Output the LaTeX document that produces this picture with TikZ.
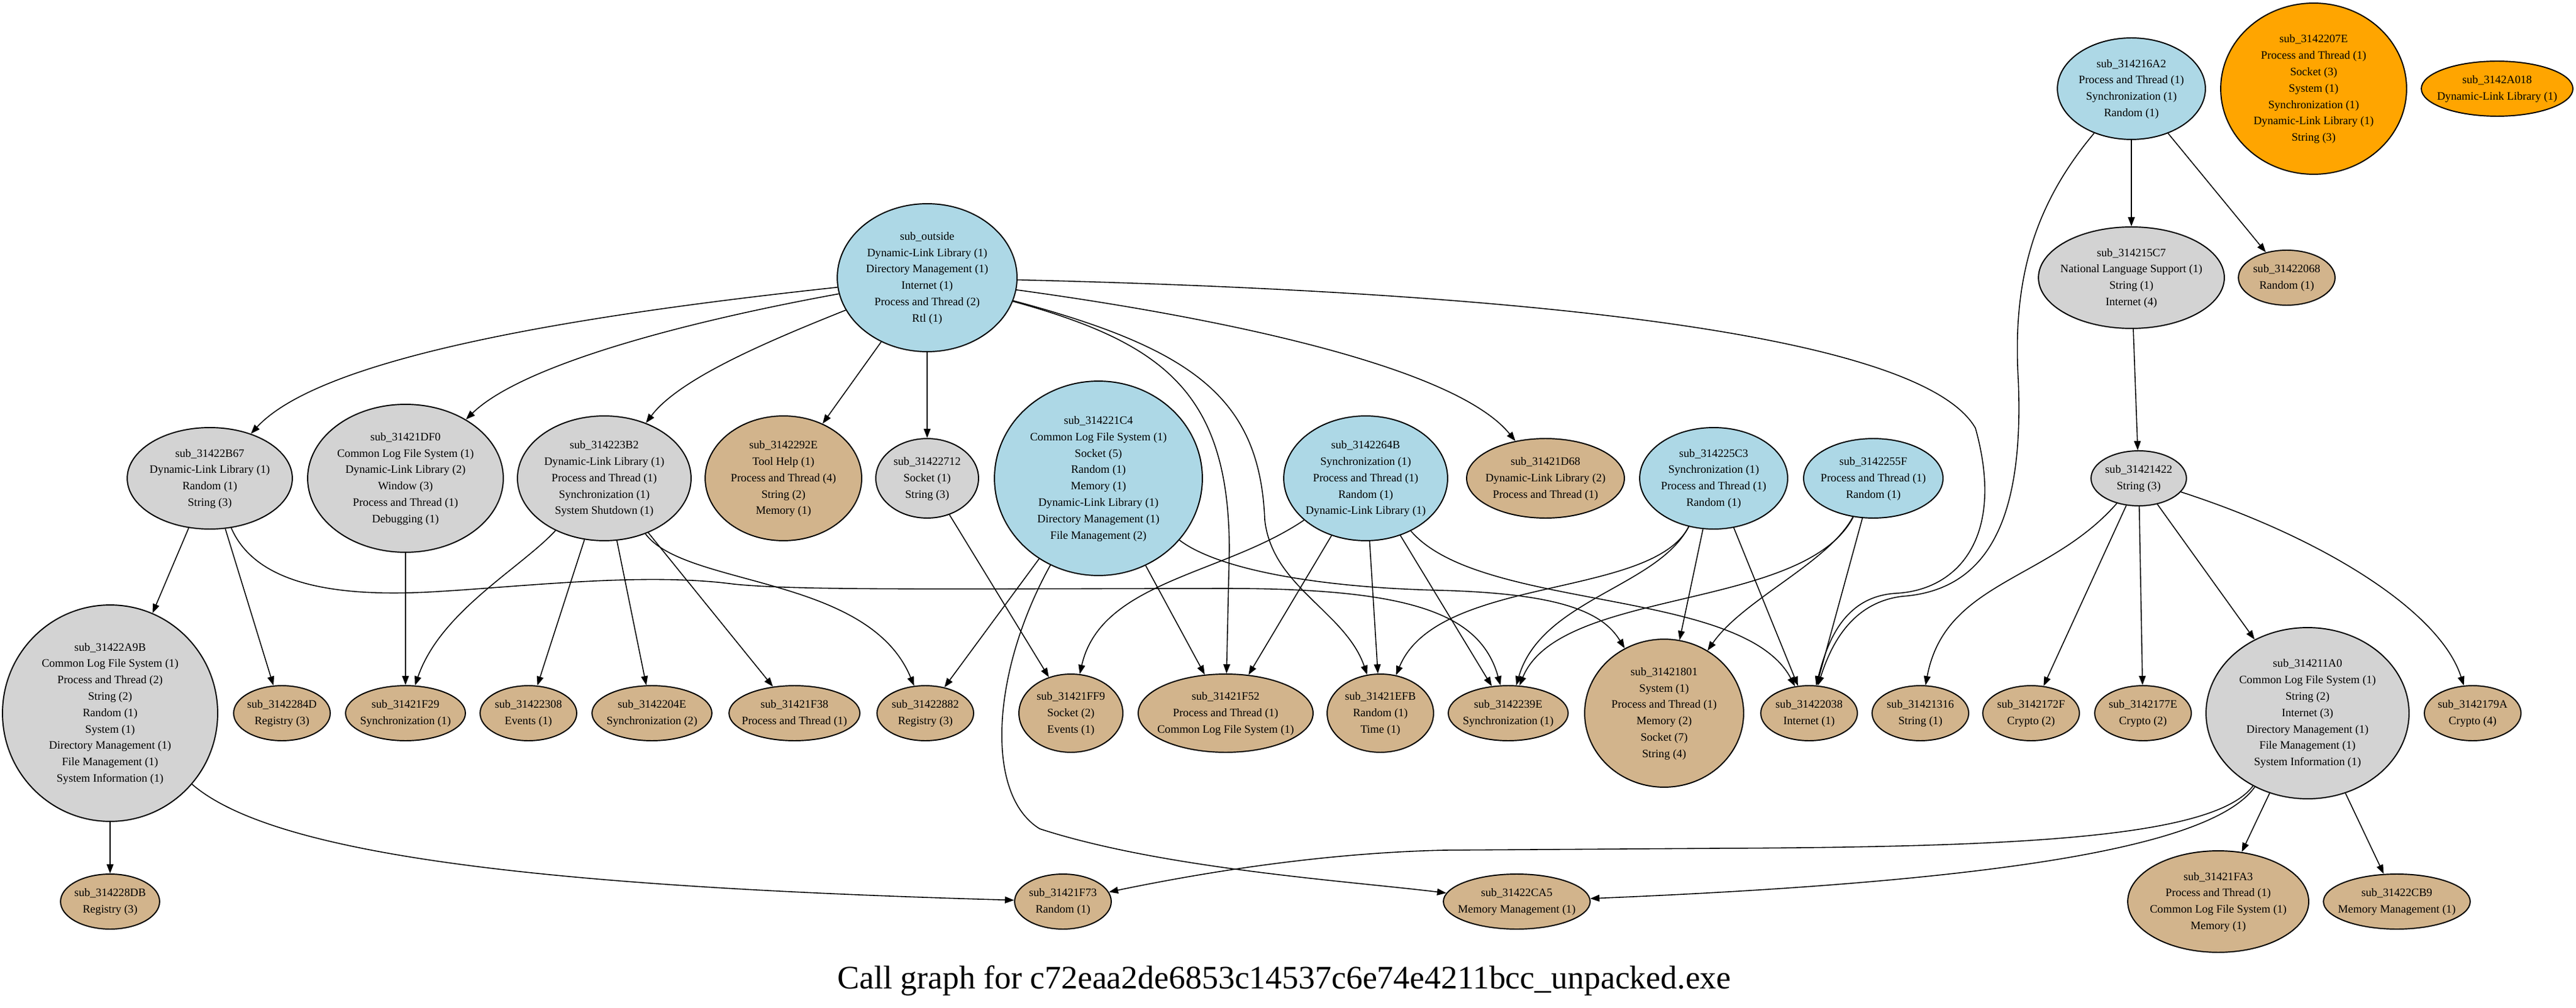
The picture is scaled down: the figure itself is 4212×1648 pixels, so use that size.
\documentclass[tikz,border=0pt]{standalone}
\usepackage{fontspec}
\setmainfont{Liberation Serif}
\usetikzlibrary{shapes.geometric,arrows.meta}
\definecolor{lb}{HTML}{ADD8E6}
\definecolor{lg}{HTML}{D3D3D3}
\definecolor{tn}{HTML}{D2B48C}
\definecolor{og}{HTML}{FFA500}
\newcommand\nl[1]{\makebox[0pt]{\begin{tabular}{@{}c@{}}#1\end{tabular}}}
\tikzset{
  nd/.style={ellipse, draw=black, line width=1.1pt, inner sep=0pt,
    font=\fontsize{10.6}{15.25}\selectfont},
  sz/.style 2 args={minimum width=#1*0.04cm, minimum height=#2*0.04cm},
  bl/.style={nd, fill=lb},
  gr/.style={nd, fill=lg},
  ta/.style={nd, fill=tn},
  or/.style={nd, fill=og},
  edge/.style={line width=0.9pt, -{Triangle[length=0.3cm,width=0.22cm]}}
}
\begin{document}
\begin{tikzpicture}[x=0.02cm,y=-0.02cm]
\fill[white] (0,0) rectangle (4212,1648);
\useasboundingbox (0,0) rectangle (4212,1648);
% top row
\node[bl,sz={147}{121}] (outside) at (1516,454) {\nl{sub\_outside\\Dynamic-Link Library (1)\\Directory Management (1)\\Internet (1)\\Process and Thread (2)\\Rtl (1)}};
\node[bl,sz={121}{83}] (s216A2) at (3485,145) {\nl{sub\_314216A2\\Process and Thread (1)\\Synchronization (1)\\Random (1)}};
\node[or,sz={152}{140}] (s207E) at (3783,145) {\nl{sub\_3142207E\\Process and Thread (1)\\Socket (3)\\System (1)\\Synchronization (1)\\Dynamic-Link Library (1)\\String (3)}};
\node[or,sz={124}{45}] (sA018) at (4083,145) {\nl{sub\_3142A018\\Dynamic-Link Library (1)}};
\node[gr,sz={152}{83}] (s15C7) at (3485,454) {\nl{sub\_314215C7\\National Language Support (1)\\String (1)\\Internet (4)}};
\node[ta,sz={79}{45}] (s2068) at (3739,454) {\nl{sub\_31422068\\Random (1)}};
% second row
\node[gr,sz={135}{83}] (sB67) at (343,782) {\nl{sub\_31422B67\\Dynamic-Link Library (1)\\Random (1)\\String (3)}};
\node[gr,sz={160}{121}] (sDF0) at (663,782) {\nl{sub\_31421DF0\\Common Log File System (1)\\Dynamic-Link Library (2)\\Window (3)\\Process and Thread (1)\\Debugging (1)}};
\node[gr,sz={142}{102}] (s23B2) at (988,782) {\nl{sub\_314223B2\\Dynamic-Link Library (1)\\Process and Thread (1)\\Synchronization (1)\\System Shutdown (1)}};
\node[ta,sz={128}{102}] (s292E) at (1281,782) {\nl{sub\_3142292E\\Tool Help (1)\\Process and Thread (4)\\String (2)\\Memory (1)}};
\node[gr,sz={84}{65}] (s2712) at (1516,782) {\nl{sub\_31422712\\Socket (1)\\String (3)}};
\node[bl,sz={170}{159}] (s21C4) at (1796,782) {\nl{sub\_314221C4\\Common Log File System (1)\\Socket (5)\\Random (1)\\Memory (1)\\Dynamic-Link Library (1)\\Directory Management (1)\\File Management (2)}};
\node[bl,sz={134}{102}] (s264B) at (2233,782) {\nl{sub\_3142264B\\Synchronization (1)\\Process and Thread (1)\\Random (1)\\Dynamic-Link Library (1)}};
\node[ta,sz={129}{65}] (sD68) at (2527,782) {\nl{sub\_31421D68\\Dynamic-Link Library (2)\\Process and Thread (1)}};
\node[bl,sz={121}{83}] (s25C3) at (2802,782) {\nl{sub\_314225C3\\Synchronization (1)\\Process and Thread (1)\\Random (1)}};
\node[bl,sz={114}{65}] (s255F) at (3063,782) {\nl{sub\_3142255F\\Process and Thread (1)\\Random (1)}};
\node[gr,sz={78}{45}] (s1422) at (3497,782) {\nl{sub\_31421422\\String (3)}};
% third row
\node[gr,sz={176}{177}] (sA9B) at (180,1166) {\nl{sub\_31422A9B\\Common Log File System (1)\\Process and Thread (2)\\String (2)\\Random (1)\\System (1)\\Directory Management (1)\\File Management (1)\\System Information (1)}};
\node[ta,sz={79}{45}] (s284D) at (461,1166) {\nl{sub\_3142284D\\Registry (3)}};
\node[ta,sz={98}{45}] (sF29) at (663,1166) {\nl{sub\_31421F29\\Synchronization (1)}};
\node[ta,sz={79}{45}] (s2308) at (864,1166) {\nl{sub\_31422308\\Events (1)}};
\node[ta,sz={98}{45}] (s204E) at (1066,1166) {\nl{sub\_3142204E\\Synchronization (2)}};
\node[ta,sz={107}{45}] (sF38) at (1299,1166) {\nl{sub\_31421F38\\Process and Thread (1)}};
\node[ta,sz={79}{45}] (s2882) at (1513,1166) {\nl{sub\_31422882\\Registry (3)}};
\node[ta,sz={85}{64}] (sFF9) at (1751,1166) {\nl{sub\_31421FF9\\Socket (2)\\Events (1)}};
\node[ta,sz={143}{64}] (sF52) at (2004,1166) {\nl{sub\_31421F52\\Process and Thread (1)\\Common Log File System (1)}};
\node[ta,sz={87}{64}] (sEFB) at (2257,1166) {\nl{sub\_31421EFB\\Random (1)\\Time (1)}};
\node[ta,sz={98}{45}] (s239E) at (2466,1166) {\nl{sub\_3142239E\\Synchronization (1)}};
\node[ta,sz={130}{121}] (s1801) at (2721,1166) {\nl{sub\_31421801\\System (1)\\Process and Thread (1)\\Memory (2)\\Socket (7)\\String (4)}};
\node[ta,sz={79}{45}] (s2038) at (2958,1166) {\nl{sub\_31422038\\Internet (1)}};
\node[ta,sz={79}{45}] (s1316) at (3140,1166) {\nl{sub\_31421316\\String (1)}};
\node[ta,sz={79}{45}] (s172F) at (3321,1166) {\nl{sub\_3142172F\\Crypto (2)}};
\node[ta,sz={79}{45}] (s177E) at (3504,1166) {\nl{sub\_3142177E\\Crypto (2)}};
\node[gr,sz={166}{140}] (s11A0) at (3773,1166) {\nl{sub\_314211A0\\Common Log File System (1)\\String (2)\\Internet (3)\\Directory Management (1)\\File Management (1)\\System Information (1)}};
\node[ta,sz={79}{45}] (s179A) at (4043,1166) {\nl{sub\_3142179A\\Crypto (4)}};
% bottom row
\node[ta,sz={81}{45}] (s28DB) at (180,1474) {\nl{sub\_314228DB\\Registry (3)}};
\node[ta,sz={79}{45}] (sF73) at (1738,1474) {\nl{sub\_31421F73\\Random (1)}};
\node[ta,sz={120}{45}] (s2CA5) at (2480,1474) {\nl{sub\_31422CA5\\Memory Management (1)}};
\node[ta,sz={148}{83}] (sFA3) at (3627,1474) {\nl{sub\_31421FA3\\Process and Thread (1)\\Common Log File System (1)\\Memory (1)}};
\node[ta,sz={120}{45}] (s2CB9) at (3919,1474) {\nl{sub\_31422CB9\\Memory Management (1)}};
% title
\node[font=\fontsize{30.6}{36}\selectfont, anchor=base, inner sep=0pt] (title) at (2100,1616) {Call graph for c72eaa2de6853c14537c6e74e4211bcc\_unpacked.exe};
% edges from sub_outside
\draw[edge] (outside) .. controls (900,520) and (520,590) .. (sB67);
\draw[edge] (outside) .. controls (1100,530) and (850,600) .. (sDF0);
\draw[edge] (outside) .. controls (1250,560) and (1110,620) .. (s23B2);
\draw[edge] (outside) -- (s292E);
\draw[edge] (outside) -- (s2712);
\draw[edge] (outside) .. controls (1900,560) and (2010,640) .. (2010,900) -- (sF52);
\draw[edge] (outside) .. controls (1950,570) and (2060,650) .. (2068,850) .. controls (2080,960) and (2200,1000) .. (sEFB);
\draw[edge] (outside) .. controls (2000,520) and (2380,600) .. (sD68);
\draw[edge] (outside) .. controls (2600,480) and (3150,560) .. (3230,700) .. controls (3280,880) and (3200,965) .. (3100,970) .. controls (3020,975) and (2990,1040) .. (s2038);
% sub_31422B67
\draw[edge] (sB67) -- (sA9B);
\draw[edge] (sB67) -- (s284D);
\draw[edge] (sB67) .. controls (420,960) and (560,975) .. (700,968) .. controls (850,960) and (1050,935) .. (1200,955) .. controls (1300,965) and (1500,963) .. (2000,962) .. controls (2300,962) and (2420,1000) .. (s239E);
% sub_31421DF0
\draw[edge] (sDF0) -- (sF29);
% sub_314223B2
\draw[edge] (s23B2) .. controls (850,930) and (720,1000) .. (sF29);
\draw[edge] (s23B2) -- (s2308);
\draw[edge] (s23B2) -- (s204E);
\draw[edge] (s23B2) -- (sF38);
\draw[edge] (s23B2) .. controls (1120,960) and (1420,940) .. (s2882);
% sub_31422712
\draw[edge] (s2712) -- (sFF9);
% sub_314221C4
\draw[edge] (s21C4) -- (s2882);
\draw[edge] (s21C4) -- (sF52);
\draw[edge] (s21C4) .. controls (1620,1100) and (1610,1300) .. (1700,1355) .. controls (1900,1420) and (2200,1440) .. (s2CA5);
\draw[edge] (s21C4) .. controls (1990,930) and (2150,960) .. (2350,965) .. controls (2550,970) and (2620,1000) .. (s1801);
% sub_3142264B
\draw[edge] (s264B) .. controls (2000,940) and (1800,950) .. (sFF9);
\draw[edge] (s264B) -- (sF52);
\draw[edge] (s264B) -- (sEFB);
\draw[edge] (s264B) -- (s239E);
\draw[edge] (s264B) .. controls (2420,1000) and (2850,960) .. (s2038);
% sub_314225C3
\draw[edge] (s25C3) -- (s1801);
\draw[edge] (s25C3) -- (s2038);
\draw[edge] (s25C3) .. controls (2700,980) and (2350,940) .. (sEFB);
\draw[edge] (s25C3) .. controls (2710,960) and (2520,980) .. (s239E);
% sub_3142255F
\draw[edge] (s255F) -- (s2038);
\draw[edge] (s255F) .. controls (2990,920) and (2850,980) .. (s1801);
\draw[edge] (s255F) .. controls (2950,1000) and (2550,960) .. (s239E);
% right cluster
\draw[edge] (s216A2) -- (s15C7);
\draw[edge] (s216A2) -- (s2068);
\draw[edge] (s216A2) .. controls (3330,330) and (3290,450) .. (3300,620) .. controls (3310,850) and (3250,965) .. (3110,975) .. controls (3030,985) and (2995,1050) .. (s2038);
\draw[edge] (s15C7) -- (s1422);
\draw[edge] (s1422) .. controls (3350,950) and (3180,950) .. (s1316);
\draw[edge] (s1422) -- (s172F);
\draw[edge] (s1422) -- (s177E);
\draw[edge] (s1422) -- (s11A0);
\draw[edge] (s1422) .. controls (3800,880) and (3990,1000) .. (s179A);
% lower edges
\draw[edge] (sA9B) -- (s28DB);
\draw[edge] (sA9B) .. controls (450,1400) and (900,1450) .. (sF73);
\draw[edge] (s11A0) .. controls (3620,1370) and (3300,1385) .. (2800,1387) -- (2360,1390) .. controls (2150,1395) and (1950,1430) .. (sF73);
\draw[edge] (s11A0) .. controls (3620,1380) and (3300,1440) .. (s2CA5);
\draw[edge] (s11A0) -- (sFA3);
\draw[edge] (s11A0) -- (s2CB9);
\end{tikzpicture}
\end{document}
